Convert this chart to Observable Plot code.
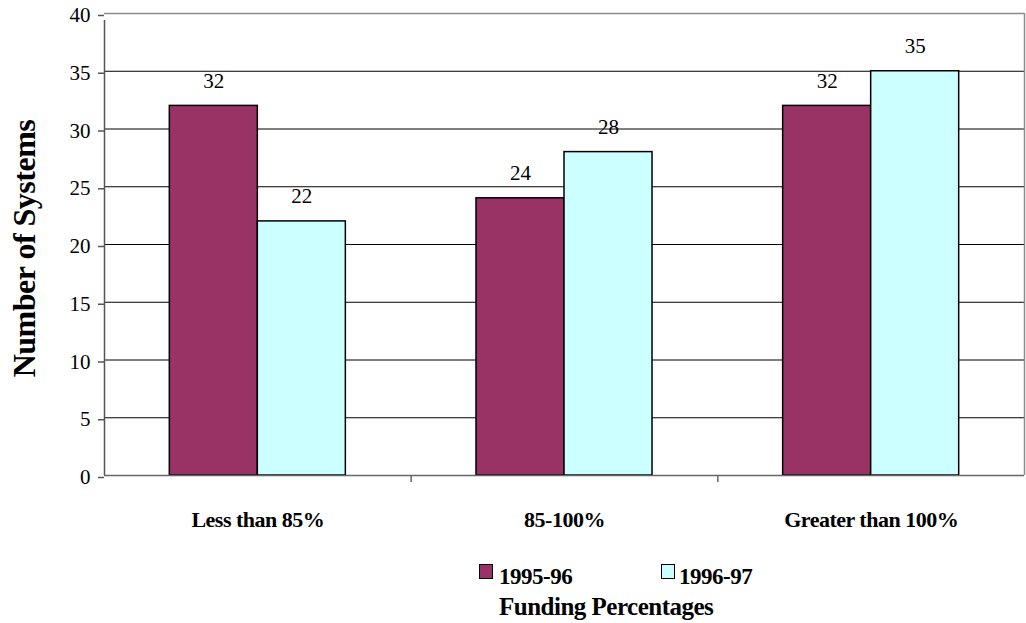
<!DOCTYPE html>
<html>
<head>
<meta charset="utf-8">
<script src="https://cdn.jsdelivr.net/npm/d3@7"></script>
<script src="https://cdn.jsdelivr.net/npm/@observablehq/plot@0.6"></script>
<style>
  html, body { margin: 0; padding: 0; background: #fff; }
  #wrap { position: relative; width: 1026px; height: 623px; }
  .legend-swatch { position: absolute; width: 12px; height: 13px; border: 1.5px solid #000; }
  .legend-text { position: absolute; font-weight: bold; line-height: 1; white-space: nowrap; color: #000; letter-spacing: -0.5px; }
</style>
</head>
<body>
<div id="wrap"></div>
<script>
// Funding percentage groups and the number of systems in each, by school year
const categories = ["Less than 85%", "85-100%", "Greater than 100%"];
const seriesNames = ["1995-96", "1996-97"];
const values1995 = [32, 24, 32];
const values1996 = [22, 28, 35];
const seriesColors = ["#993366", "#CCFFFF"];
const yTicks = [0, 5, 10, 15, 20, 25, 30, 35, 40];
const yTitle = "Number of Systems";
const xTitle = "Funding Percentages";

// Each category occupies one unit of x; two bars sit side by side in it
const groupOffset = 0.213;
const barSpan = 0.287;
const seriesValues = [values1995, values1996];
const rows = [];
categories.forEach((c, i) => {
  seriesNames.forEach((s, j) => {
    const x1 = i + groupOffset + j * barSpan;
    rows.push({category: c, series: s, value: seriesValues[j][i], x1, x2: x1 + barSpan, xc: x1 + barSpan / 2});
  });
});
const categoryCenters = categories.map((c, i) => i + 0.5);
const categoryBounds = categories.slice(1).map((c, i) => i + 1);

const serif = "'Liberation Serif'";

const chart = Plot.plot({
  width: 1026,
  height: 545,
  marginTop: 13,
  marginBottom: 70,
  marginLeft: 104,
  marginRight: 2,
  style: {background: "#fff", overflow: "visible"},
  x: {type: "linear", domain: [0, categories.length], axis: null},
  y: {domain: [0, 40], axis: null},
  color: {domain: seriesNames, range: seriesColors},
  marks: [
    // horizontal gridlines
    Plot.ruleY(yTicks.filter(t => t > 0 && t < 40), {stroke: "#000", strokeWidth: 1}),
    // plot area border: top and right in grey
    Plot.ruleY([40], {stroke: "#8c8c8c", strokeWidth: 1.5}),
    Plot.ruleX([categories.length], {y1: 0, y2: 40, stroke: "#8c8c8c", strokeWidth: 1.5}),
    // bars
    Plot.rectY(rows, {x1: "x1", x2: "x2", y1: 0, y2: "value", fill: "series", stroke: "#000", strokeWidth: 1.5}),
    // baseline and value axis line
    Plot.ruleY([0], {stroke: "#666", strokeWidth: 1.5}),
    Plot.ruleX([0], {y1: 0, y2: 40, stroke: "#555", strokeWidth: 1.5, insetBottom: -7}),
    // value labels
    Plot.text(rows, {x: "xc", y: "value", text: d => String(d.value), dy: -25, lineAnchor: "middle", fontSize: 21, fill: "#000"}),
    // y axis ticks and labels
    Plot.axisY({ticks: yTicks, tickSize: 6, tickPadding: 8, fontSize: 21, stroke: "#555", strokeWidth: 1.5, fill: "#000", dy: 2, label: null}),
    // category separators on the x axis
    Plot.axisX({ticks: categoryBounds, tickSize: 7, tickFormat: () => "", stroke: "#666", strokeWidth: 1.5, label: null}),
    // category labels
    Plot.axisX({ticks: categoryCenters, tickSize: 0, tickPadding: 36, tickFormat: (d) => categories[Math.floor(d)], fontSize: 22, fontWeight: "bold", fill: "#000", label: null}),
    // y axis title
    Plot.text([yTitle], {text: d => d, frameAnchor: "left", textAnchor: "middle", lineAnchor: "middle", dx: -80, dy: 4, rotate: -90, fontSize: 32, fontWeight: "bold", fill: "#000"})
  ]
});

const wrap = document.getElementById("wrap");
wrap.appendChild(chart);
chart.style.position = "absolute";
chart.style.left = "0px";
chart.style.top = "0px";
chart.style.fontFamily = serif;
chart.setAttribute("font-family", "Liberation Serif");
chart.querySelectorAll("g, text").forEach(el => {
  el.style.fontFamily = serif;
  if (el.tagName === "text" && el.closest("[font-weight=bold]")) el.style.letterSpacing = "-0.5px";
});

// legend and axis title below the chart
function addText(txt, left, top, size) {
  const d = document.createElement("div");
  d.className = "legend-text";
  d.textContent = txt;
  d.style.fontFamily = serif;
  d.style.left = left + "px";
  d.style.top = top + "px";
  d.style.fontSize = size + "px";
  wrap.appendChild(d);
}
function addSwatch(color, left, top) {
  const s = document.createElement("div");
  s.className = "legend-swatch";
  s.style.background = color;
  s.style.left = left + "px";
  s.style.top = top + "px";
  wrap.appendChild(s);
}
addSwatch(seriesColors[0], 479, 564);
addText(seriesNames[0], 499, 565, 23);
addSwatch(seriesColors[1], 661, 564);
addText(seriesNames[1], 679, 565, 23);
addText(xTitle, 499, 594, 25);
</script>
</body>
</html>
